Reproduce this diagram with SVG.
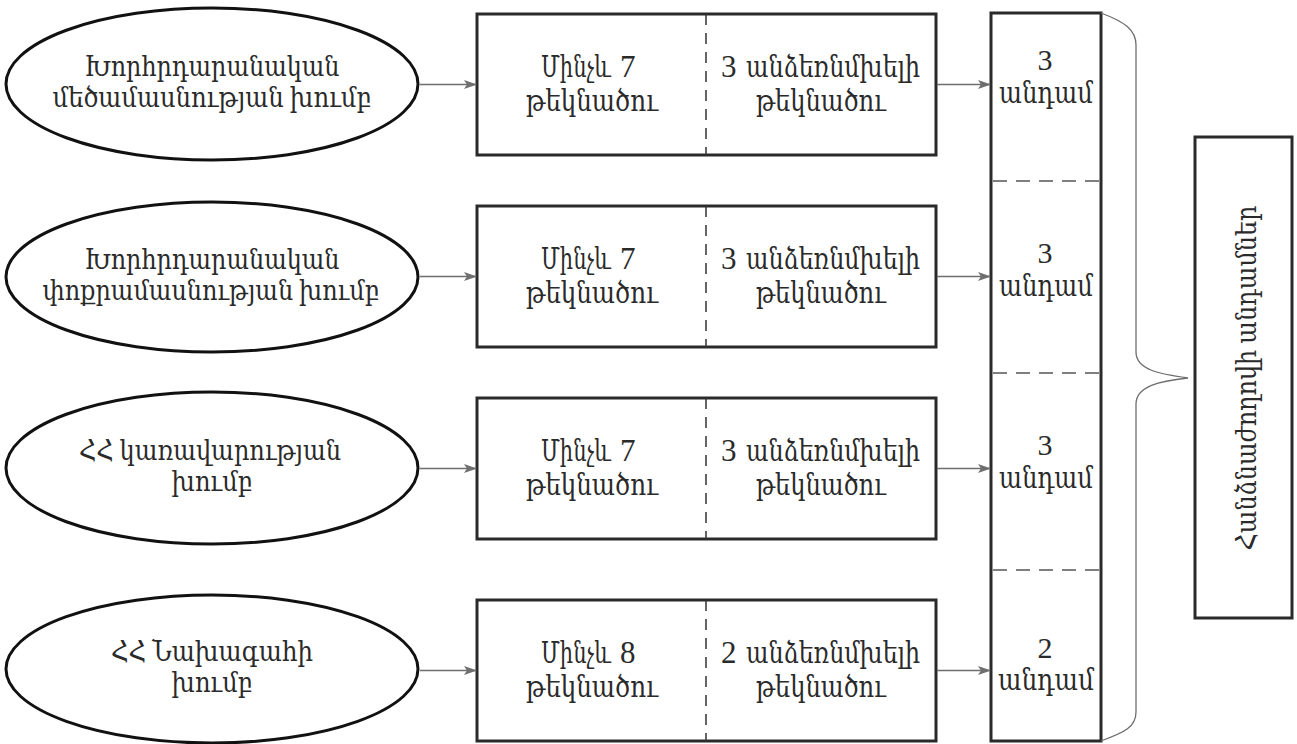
<svg xmlns="http://www.w3.org/2000/svg" width="1297" height="744" viewBox="0 0 1297 744">
<defs>
<marker id="ah" markerWidth="13" markerHeight="10" refX="12" refY="5" orient="auto" markerUnits="userSpaceOnUse">
<path d="M0,0.5 L13,5 L0,9.5 L3,5 Z" fill="#6e6e6e"/>
</marker>
<style>
text{font-family:"Liberation Serif","DejaVu Serif",serif;fill:#2a2a2a;text-anchor:middle}
.et{font-size:27px}
.bt{font-size:30px}
.st{font-size:30px;text-anchor:start}
.dg{font-size:31px}
.ct{font-size:30px}
.vt{font-size:28px}
.ell{fill:#fff;stroke:#111;stroke-width:3}
.box{fill:#fff;stroke:#2a2a2a;stroke-width:3}
.vdash{stroke:#333;stroke-width:1.5;stroke-dasharray:11 8;fill:none}
.hdash{stroke:#555;stroke-width:1.5;stroke-dasharray:14 9;fill:none}
.conn{stroke:#6e6e6e;stroke-width:1.6;fill:none;marker-end:url(#ah)}
.brace{stroke:#6e6e6e;stroke-width:1.3;fill:none}
</style>
</defs>
<rect width="1297" height="744" fill="#fff"/>

<g id="ellipse1">
<ellipse class="ell" cx="212" cy="84" rx="206" ry="76"/>
<text class="et" x="212" y="76" textLength="255" lengthAdjust="spacingAndGlyphs">Խորհրդարանական</text>
<text class="et" x="212" y="107" textLength="319" lengthAdjust="spacingAndGlyphs">մեծամասնության խումբ</text>
</g>
<g id="ellipse2">
<ellipse class="ell" cx="212" cy="277" rx="206" ry="75"/>
<text class="et" x="212" y="269" textLength="255" lengthAdjust="spacingAndGlyphs">Խորհրդարանական</text>
<text class="et" x="211" y="300" textLength="337" lengthAdjust="spacingAndGlyphs">փոքրամասնության խումբ</text>
</g>
<g id="ellipse3">
<ellipse class="ell" cx="212" cy="468" rx="206" ry="76"/>
<text class="et" x="210" y="460" textLength="262" lengthAdjust="spacingAndGlyphs">ՀՀ կառավարության</text>
<text class="et" x="212" y="491" textLength="81" lengthAdjust="spacingAndGlyphs">խումբ</text>
</g>
<g id="ellipse4">
<ellipse class="ell" cx="212" cy="669" rx="206" ry="74"/>
<text class="et" x="212" y="661" textLength="202" lengthAdjust="spacingAndGlyphs">ՀՀ Նախագահի</text>
<text class="et" x="212" y="692" textLength="81" lengthAdjust="spacingAndGlyphs">խումբ</text>
</g>

<g id="box1">
<rect class="box" x="477" y="14" width="459" height="141"/>
<line class="vdash" x1="706" y1="14" x2="706" y2="155"/>
<text class="st" transform="translate(541,77) scale(0.7,1)">Մինչև</text>
<text class="st dg" x="620" y="77">7</text>
<text class="bt" x="592" y="111" textLength="132" lengthAdjust="spacingAndGlyphs">թեկնածու</text>
<text class="st" x="721" y="77"><tspan class="dg">3</tspan><tspan x="746" textLength="174" lengthAdjust="spacingAndGlyphs">անձեռնմխելի</tspan></text>
<text class="bt" x="821" y="111" textLength="130" lengthAdjust="spacingAndGlyphs">թեկնածու</text>
</g>
<g id="box2">
<rect class="box" x="477" y="206" width="459" height="141"/>
<line class="vdash" x1="706" y1="206" x2="706" y2="347"/>
<text class="st" transform="translate(541,269) scale(0.7,1)">Մինչև</text>
<text class="st dg" x="620" y="269">7</text>
<text class="bt" x="592" y="303" textLength="132" lengthAdjust="spacingAndGlyphs">թեկնածու</text>
<text class="st" x="721" y="269"><tspan class="dg">3</tspan><tspan x="746" textLength="174" lengthAdjust="spacingAndGlyphs">անձեռնմխելի</tspan></text>
<text class="bt" x="821" y="303" textLength="130" lengthAdjust="spacingAndGlyphs">թեկնածու</text>
</g>
<g id="box3">
<rect class="box" x="477" y="398" width="459" height="141"/>
<line class="vdash" x1="706" y1="398" x2="706" y2="539"/>
<text class="st" transform="translate(541,461) scale(0.7,1)">Մինչև</text>
<text class="st dg" x="620" y="461">7</text>
<text class="bt" x="592" y="495" textLength="132" lengthAdjust="spacingAndGlyphs">թեկնածու</text>
<text class="st" x="721" y="461"><tspan class="dg">3</tspan><tspan x="746" textLength="174" lengthAdjust="spacingAndGlyphs">անձեռնմխելի</tspan></text>
<text class="bt" x="821" y="495" textLength="130" lengthAdjust="spacingAndGlyphs">թեկնածու</text>
</g>
<g id="box4">
<rect class="box" x="477" y="600" width="459" height="141"/>
<line class="vdash" x1="706" y1="600" x2="706" y2="741"/>
<text class="st" transform="translate(541,663) scale(0.7,1)">Մինչև</text>
<text class="st dg" x="620" y="663">8</text>
<text class="bt" x="592" y="697" textLength="132" lengthAdjust="spacingAndGlyphs">թեկնածու</text>
<text class="st" x="721" y="663"><tspan class="dg">2</tspan><tspan x="746" textLength="174" lengthAdjust="spacingAndGlyphs">անձեռնմխելի</tspan></text>
<text class="bt" x="821" y="697" textLength="130" lengthAdjust="spacingAndGlyphs">թեկնածու</text>
</g>

<g id="members">
<rect class="box" x="991" y="13" width="110" height="728"/>
<line class="hdash" x1="993" y1="181" x2="1099" y2="181"/>
<line class="hdash" x1="993" y1="373" x2="1099" y2="373"/>
<line class="hdash" x1="993" y1="570" x2="1099" y2="570"/>
<text class="ct" x="1045" y="70">3</text>
<text class="ct" x="1046" y="103" textLength="94" lengthAdjust="spacingAndGlyphs">անդամ</text>
<text class="ct" x="1045" y="263">3</text>
<text class="ct" x="1046" y="296" textLength="94" lengthAdjust="spacingAndGlyphs">անդամ</text>
<text class="ct" x="1045" y="455">3</text>
<text class="ct" x="1046" y="488" textLength="94" lengthAdjust="spacingAndGlyphs">անդամ</text>
<text class="ct" x="1045" y="658">2</text>
<text class="ct" x="1046" y="690" textLength="96" lengthAdjust="spacingAndGlyphs">անդամ</text>
</g>

<g id="commission">
<rect class="box" x="1195" y="137" width="97" height="481"/>
<text class="vt" transform="translate(1256,378) rotate(-90)" x="0" y="0" textLength="345" lengthAdjust="spacingAndGlyphs">Հանձնաժողովի անդամներ</text>
</g>

<g id="connectors">
<line class="conn" x1="420" y1="84.5" x2="476" y2="84.5"/>
<line class="conn" x1="420" y1="276.5" x2="476" y2="276.5"/>
<line class="conn" x1="420" y1="468.5" x2="476" y2="468.5"/>
<line class="conn" x1="420" y1="670.5" x2="476" y2="670.5"/>
<line class="conn" x1="937" y1="84.5" x2="990" y2="84.5"/>
<line class="conn" x1="937" y1="276.5" x2="990" y2="276.5"/>
<line class="conn" x1="937" y1="468.5" x2="990" y2="468.5"/>
<line class="conn" x1="937" y1="670.5" x2="990" y2="670.5"/>
<path class="brace" d="M1101,13 C1125,22 1136,30 1136,45 L1136,352 C1136,370 1160,374 1188,378 C1160,381 1136,386 1136,404 L1136,712 C1136,727 1125,732 1101,741"/>
</g>
</svg>
